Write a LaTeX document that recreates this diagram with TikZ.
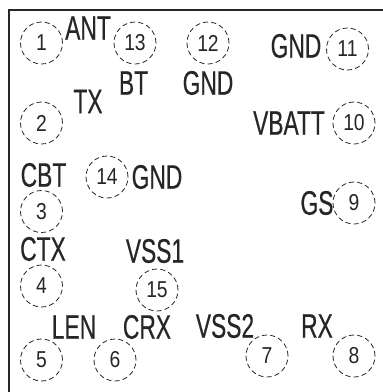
\documentclass[tikz,border=0pt]{standalone}
\usepackage{fontspec}
\setmainfont[FakeStretch=0.67,FakeBold=0.4]{Liberation Sans}
\newfontfamily\padfont[FakeStretch=0.84]{Liberation Sans}
\tikzset{
  pinmark/.style={circle, draw=black!85, dash pattern=on 5pt off 3.2pt, line width=0.8pt, minimum size=42pt, inner sep=0pt, font=\padfont\fontsize{23}{23}\selectfont, text=black!85},
  pinname/.style={inner sep=0pt, font=\fontsize{34}{34}\selectfont, text=black!85}
}
\begin{document}
\begin{tikzpicture}[x=1pt,y=-1pt]
  \useasboundingbox (0,0) rectangle (383,392);
  % outer frame
  \draw[line width=2pt, black!85] (8.5,392) -- (8.5,9.5) -- (383,9.5);

  % pads
  \node (pad1) at (41.5,43) [pinmark] {1};
  \node (pad2) at (41.5,123) [pinmark] {2};
  \node (pad3) at (41.5,211.5) [pinmark] {3};
  \node (pad4) at (41.5,286) [pinmark] {4};
  \node (pad5) at (41.5,360) [pinmark] {5};
  \node (pad6) at (115,360) [pinmark] {6};
  \node (pad7) at (267,356) [pinmark] {7};
  \node (pad8) at (354,356) [pinmark] {8};
  \node (pad9) at (354,203) [pinmark] {9};
  \node (pad10) at (354,123) [pinmark] {10};
  \node (pad11) at (347.5,49) [pinmark] {11};
  \node (pad12) at (208,43) [pinmark] {12};
  \node (pad13) at (135,43) [pinmark] {13};
  \node (pad14) at (107,177) [pinmark] {14};
  \node (pad15) at (157,290) [pinmark] {15};

  % pad names
  \node (ant) at (88,28) [pinname] {ANT};
  \node (tx) at (88,101.5) [pinname] {TX};
  \node (cbt) at (43.5,175) [pinname] {CBT};
  \node (ctx) at (43,249) [pinname] {CTX};
  \node (len) at (74,327) [pinname] {LEN};
  \node (crx) at (147,327) [pinname] {CRX};
  \node (vss2) at (225,326) [pinname] {VSS2};
  \node (rx) at (317,326) [pinname] {RX};
  \node (gs) at (317,203) [pinname] {GS};
  \node (vbatt) at (289,123) [pinname] {VBATT};
  \node (gndb) at (296,46) [pinname] {GND};
  \node (gnda) at (208,83) [pinname] {GND};
  \node (bt) at (133.5,83) [pinname] {BT};
  \node (gndc) at (157,177) [pinname] {GND};
  \node (vss1) at (155,251) [pinname] {VSS1};
\end{tikzpicture}
\end{document}
